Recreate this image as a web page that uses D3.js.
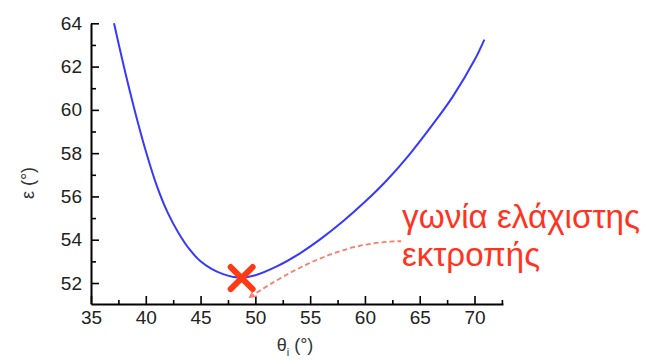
<!DOCTYPE html>
<html>
<head>
<meta charset="utf-8">
<script src="https://cdn.jsdelivr.net/npm/d3@7"></script>
<style>
  body { margin: 0; background: #fff; }
  text { font-family: "Liberation Sans", Arial, sans-serif; }
</style>
</head>
<body>
<script>
// deviation angle vs angle of incidence
var theta = [37.1, 38, 39, 40, 41, 42, 43, 44, 45, 46, 47, 48, 48.7,
             50, 52, 54, 56, 58, 60, 62, 64, 66, 68, 70, 70.9];
var eps   = [64.0, 62.0, 59.95, 58.1, 56.5, 55.25, 54.3, 53.55, 53.0, 52.65, 52.42, 52.28, 52.24,
             52.36, 52.78, 53.35, 54.05, 54.85, 55.75, 56.75, 57.9, 59.2, 60.6, 62.3, 63.25];

var minPoint = [48.75, 52.23];          // the red cross
var notePath = [[49.5, 51.35], [63.3, 53.93]];  // dashed pointer, start -> end
var noteLines = ["γωνία ελάχιστης", "εκτροπής"];

var xTicks = [35, 40, 45, 50, 55, 60, 65, 70];
var xMinor = [37.5, 42.5, 47.5, 52.5, 57.5, 62.5, 67.5, 72.5];
var yTicks = [52, 54, 56, 58, 60, 62, 64];
var yMinor = [53, 55, 57, 59, 61, 63];

var width = 651, height = 361;

var x = d3.scaleLinear().domain([35, 72.6]).range([91, 503]);
var y = d3.scaleLinear().domain([51.03, 64]).range([304, 23.3]);

var svg = d3.select("body").append("svg")
    .attr("width", width)
    .attr("height", height);

// axes - ticks point inwards
var gx = svg.append("g").attr("transform", "translate(0," + y.range()[0] + ")");
gx.call(d3.axisBottom(x).tickValues(xTicks).tickSize(-8).tickSizeOuter(0).tickPadding(10));
gx.append("g").call(d3.axisBottom(x).tickValues(xMinor).tickSize(-4).tickSizeOuter(0).tickFormat(""))
  .select(".domain").remove();

var gy = svg.append("g").attr("transform", "translate(" + x.range()[0] + ",0)");
gy.call(d3.axisLeft(y).tickValues(yTicks).tickSize(-8).tickSizeOuter(0).tickPadding(9));
gy.append("g").call(d3.axisLeft(y).tickValues(yMinor).tickSize(-5).tickSizeOuter(0).tickFormat(""))
  .select(".domain").remove();

svg.selectAll(".domain").attr("stroke", "#000").attr("stroke-width", 2);
svg.selectAll(".tick line").attr("stroke", "#000").attr("stroke-width", 1.6);
svg.selectAll(".tick text")
   .attr("font-size", 19)
   .attr("fill", "#222")
   .attr("font-family", "Liberation Sans, Arial, sans-serif");
gx.selectAll(".tick text").attr("dy", "0.5em");

// axis titles
var xl = svg.append("text")
    .attr("x", 295).attr("y", 351)
    .attr("text-anchor", "middle")
    .attr("font-size", 18)
    .attr("fill", "#333");
xl.append("tspan").text("θ");
xl.append("tspan").attr("font-size", 11).attr("dy", 5).text("i");
xl.append("tspan").attr("dy", -5).text(" (°)");

svg.append("text")
    .attr("transform", "translate(34,183) rotate(-90)")
    .attr("text-anchor", "middle")
    .attr("font-size", 18)
    .attr("fill", "#333")
    .text("ε (°)");

// curve
var pts = theta.map(function(t, i) { return [t, eps[i]]; });
var line = d3.line()
    .x(function(d) { return x(d[0]); })
    .y(function(d) { return y(d[1]); })
    .curve(d3.curveCatmullRom.alpha(0.5));

svg.append("path")
   .datum(pts)
   .attr("d", line)
   .attr("fill", "none")
   .attr("stroke", "#3838ff")
   .attr("stroke-width", 2);

// dashed pointer to the minimum
var p0 = [x(notePath[0][0]), y(notePath[0][1])];
var p1 = [x(notePath[1][0]), y(notePath[1][1])];
var path = d3.path();
path.moveTo(p0[0], p0[1]);
path.bezierCurveTo(p0[0] + 40, p0[1] - 26, p1[0] - 60, p1[1], p1[0], p1[1]);
svg.append("path")
   .attr("d", path.toString())
   .attr("fill", "none")
   .attr("stroke", "#ff7a6a")
   .attr("stroke-width", 1.8)
   .attr("stroke-dasharray", "5,3");
// little arrow head at the start
svg.append("path")
   .attr("d", "M" + (p0[0] + 7) + "," + (p0[1] - 1) + "L" + p0[0] + "," + p0[1] + "L" + (p0[0] + 3) + "," + (p0[1] - 6))
   .attr("fill", "none")
   .attr("stroke", "#ff7a6a")
   .attr("stroke-width", 1.5);

// red cross at the minimum
var cx = x(minPoint[0]), cy = y(minPoint[1]), r = 11;
svg.append("path")
   .attr("d", "M" + (cx - r) + "," + (cy - r) + "L" + (cx + r) + "," + (cy + r) +
              "M" + (cx - r) + "," + (cy + r) + "L" + (cx + r) + "," + (cy - r))
   .attr("stroke", "#ff3a14")
   .attr("stroke-width", 6)
   .attr("stroke-linecap", "round");

// annotation text
var lens = [238, 138];
svg.selectAll(".note")
   .data(noteLines)
   .enter().append("text")
   .attr("class", "note")
   .attr("x", p1[0] + 1)
   .attr("y", function(d, i) { return p1[1] - 13 + i * 38; })
   .attr("font-size", 33)
   .attr("fill", "#ff3322")
   .attr("textLength", function(d, i) { return lens[i]; })
   .attr("lengthAdjust", "spacingAndGlyphs")
   .text(function(d) { return d; });
</script>
</body>
</html>
